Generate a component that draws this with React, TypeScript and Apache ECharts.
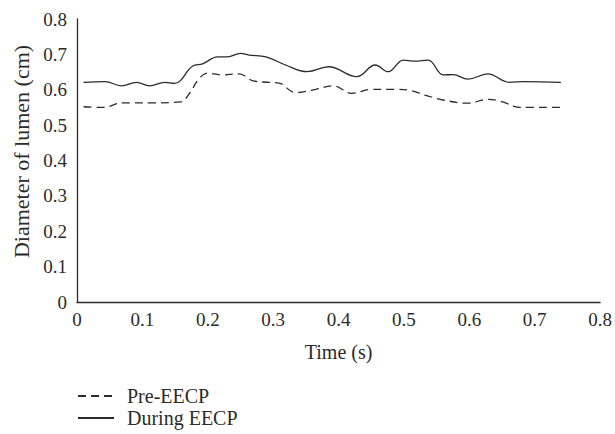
import React, { useEffect, useRef } from "react";
import * as echarts from "echarts";

const xTicks = [0, 0.1, 0.2, 0.3, 0.4, 0.5, 0.6, 0.7, 0.8];
const yTicks = [0, 0.1, 0.2, 0.3, 0.4, 0.5, 0.6, 0.7, 0.8];

const preTime = [0.01, 0.04, 0.07, 0.114, 0.159, 0.172, 0.187, 0.2, 0.22, 0.248, 0.268, 0.294, 0.309, 0.334, 0.365, 0.392, 0.42, 0.451, 0.486, 0.507, 0.532, 0.56, 0.598, 0.628, 0.648, 0.679, 0.74];
const preValue = [0.552, 0.55, 0.563, 0.563, 0.566, 0.59, 0.632, 0.647, 0.642, 0.645, 0.626, 0.621, 0.619, 0.592, 0.601, 0.611, 0.59, 0.601, 0.601, 0.599, 0.585, 0.571, 0.562, 0.573, 0.567, 0.55, 0.55];

const duringTime = [0.01, 0.043, 0.068, 0.091, 0.111, 0.134, 0.149, 0.177, 0.192, 0.215, 0.23, 0.25, 0.263, 0.289, 0.319, 0.352, 0.385, 0.428, 0.456, 0.476, 0.499, 0.517, 0.537, 0.56, 0.575, 0.598, 0.628, 0.661, 0.684, 0.74];
const duringValue = [0.621, 0.623, 0.611, 0.621, 0.611, 0.621, 0.618, 0.667, 0.673, 0.693, 0.693, 0.703, 0.698, 0.693, 0.67, 0.651, 0.665, 0.637, 0.67, 0.651, 0.684, 0.681, 0.684, 0.642, 0.643, 0.63, 0.645, 0.621, 0.623, 0.621];

const seriesNames = ["Pre-EECP", "During EECP"];

const FONT = "Liberation Serif";
const TXT = "#2b2b2b";
const LINE = "#2b2b2b";

export default function App() {
  const ref = useRef<HTMLDivElement>(null);
  useEffect(() => {
    if (!ref.current) return;
    const chart = echarts.init(ref.current, undefined, { renderer: "svg" });
    const fmt = (v: number) => String(Math.round(v * 10) / 10);
    const legendBase = {
      orient: "vertical",
      left: 77,
      itemWidth: 36,
      itemHeight: 14,
      padding: 0,
      itemStyle: { opacity: 0 },
      textStyle: {
        fontFamily: FONT,
        fontSize: 20,
        color: TXT,
        padding: [0, 0, 0, 8],
      },
    };
    chart.setOption({
      animation: false,
      backgroundColor: "#fff",
      textStyle: { fontFamily: FONT },
      grid: { left: 77, right: 12, top: 19, bottom: 132, containLabel: false },
      legend: [
        { ...legendBase, top: 386, data: [seriesNames[0]] },
        { ...legendBase, top: 408, data: [seriesNames[1]] },
      ],
      xAxis: {
        type: "value",
        min: xTicks[0],
        max: xTicks[xTicks.length - 1],
        interval: 0.1,
        name: "Time (s)",
        nameLocation: "middle",
        nameGap: 40,
        nameTextStyle: { fontFamily: FONT, fontSize: 20, color: TXT },
        axisLine: { show: true, lineStyle: { color: LINE, width: 1.3 } },
        axisTick: { show: false },
        splitLine: { show: false },
        axisLabel: {
          fontFamily: FONT,
          fontSize: 19,
          color: TXT,
          margin: 8,
          formatter: fmt,
        },
      },
      yAxis: {
        type: "value",
        min: yTicks[0],
        max: yTicks[yTicks.length - 1],
        interval: 0.1,
        name: "Diameter of lumen (cm)",
        nameLocation: "middle",
        nameGap: 43,
        nameTextStyle: {
          fontFamily: FONT,
          fontSize: 22,
          color: TXT,
          padding: [0, 0, 0, 18],
        },
        axisLine: { show: true, lineStyle: { color: LINE, width: 1.3 } },
        axisTick: { show: false },
        splitLine: { show: false },
        axisLabel: {
          fontFamily: FONT,
          fontSize: 19,
          color: TXT,
          margin: 10,
          formatter: fmt,
        },
      },
      series: [
        {
          name: seriesNames[0],
          type: "line",
          smooth: 0.4,
          symbol: "none",
          data: preTime.map((t, i) => [t, preValue[i]]),
          lineStyle: { color: LINE, width: 1.3, type: [8, 5] },
          itemStyle: { color: LINE },
        },
        {
          name: seriesNames[1],
          type: "line",
          smooth: 0.4,
          symbol: "none",
          data: duringTime.map((t, i) => [t, duringValue[i]]),
          lineStyle: { color: LINE, width: 1.3 },
          itemStyle: { color: LINE },
        },
      ],
    });
    return () => chart.dispose();
  }, []);
  return (
    <div
      ref={ref}
      style={{ position: "absolute", left: 0, top: 0, width: 615, height: 434 }}
    />
  );
}
